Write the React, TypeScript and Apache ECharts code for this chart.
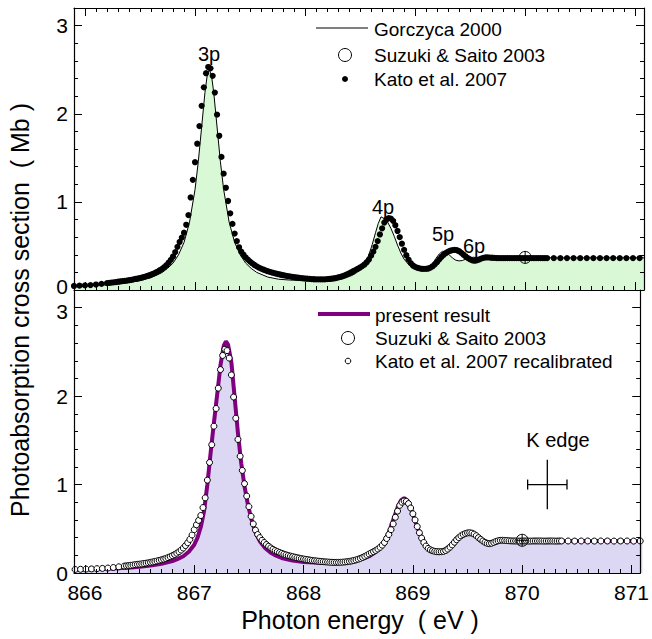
import React, { useEffect, useRef } from 'react';
import * as echarts from 'echarts';

// ---------- Data ----------
// Gorczyca 2000 (theory, top panel)
const gorczycaE = [
  865.90, 866.00, 866.10, 866.20, 866.30, 866.40, 866.50, 866.60, 866.70, 866.75,
  866.80, 866.85, 866.90, 866.95, 867.00, 867.03, 867.06, 867.09, 867.11, 867.13,
  867.15, 867.17, 867.20, 867.23, 867.26, 867.31, 867.36, 867.41, 867.46, 867.51,
  867.56, 867.66, 867.76, 867.86, 867.96, 868.06, 868.16, 868.26, 868.36, 868.42,
  868.46, 868.50, 868.54, 868.58, 868.61, 868.64, 868.665, 868.69, 868.72, 868.75,
  868.78, 868.81, 868.84, 868.87, 868.90, 868.94, 868.98, 869.02, 869.06, 869.10,
  869.13, 869.16, 869.19, 869.22, 869.25, 869.28, 869.31, 869.34, 869.37, 869.40,
  869.43, 869.46, 869.50, 869.53, 869.56, 869.60, 869.65, 869.70, 869.80, 870.00,
  870.50, 871.10,
];
const gorczycaY = [
  0.043, 0.047, 0.052, 0.059, 0.070, 0.085, 0.107, 0.140, 0.198, 0.245,
  0.305, 0.400, 0.540, 0.770, 1.140, 1.460, 1.850, 2.240, 2.430, 2.500,
  2.430, 2.240, 1.850, 1.460, 1.140, 0.770, 0.540, 0.400, 0.305, 0.245,
  0.200, 0.147, 0.122, 0.113, 0.108, 0.106, 0.108, 0.118, 0.138, 0.162,
  0.188, 0.232, 0.295, 0.400, 0.515, 0.650, 0.755, 0.830, 0.810, 0.770,
  0.700, 0.610, 0.510, 0.420, 0.350, 0.290, 0.255, 0.235, 0.225, 0.230,
  0.255, 0.300, 0.360, 0.410, 0.440, 0.430, 0.400, 0.362, 0.338, 0.330,
  0.335, 0.350, 0.365, 0.372, 0.368, 0.362, 0.364, 0.367, 0.366, 0.365,
  0.365, 0.365,
];

// Kato et al. 2007 (measured energies)
const katoE = [
  865.75, 865.80, 865.85, 865.90, 865.95, 866.00, 866.05, 866.10, 866.15,
  866.20, 866.22, 866.24, 866.26, 866.28, 866.30, 866.32, 866.34, 866.36, 866.38,
  866.40, 866.42, 866.44, 866.46, 866.48, 866.50, 866.52, 866.54, 866.56, 866.58,
  866.60, 866.62, 866.64, 866.66, 866.68, 866.70, 866.72, 866.74, 866.76, 866.78,
  866.80, 866.82, 866.84, 866.86, 866.88, 866.90, 866.92, 866.94, 866.96, 866.98,
  867.00, 867.02, 867.04, 867.06, 867.08, 867.10, 867.12, 867.14, 867.16, 867.18,
  867.20, 867.22, 867.24, 867.26, 867.28, 867.30, 867.32, 867.34, 867.36, 867.38,
  867.40, 867.42, 867.44, 867.46, 867.48, 867.50, 867.52, 867.54, 867.56, 867.58,
  867.60, 867.62, 867.64, 867.66, 867.68, 867.70, 867.72, 867.74, 867.76, 867.78,
  867.80, 867.82, 867.84, 867.86, 867.88, 867.90, 867.92, 867.94, 867.96, 867.98,
  868.00, 868.02, 868.04, 868.06, 868.08, 868.10, 868.12, 868.14, 868.16, 868.18,
  868.20, 868.22, 868.24, 868.26, 868.28, 868.30, 868.32, 868.34, 868.36, 868.38,
  868.40, 868.42, 868.44, 868.46, 868.48, 868.50, 868.52, 868.54, 868.56, 868.58,
  868.60, 868.62, 868.64, 868.66, 868.68, 868.70, 868.72, 868.74, 868.76, 868.78,
  868.80, 868.82, 868.84, 868.86, 868.88, 868.90, 868.92, 868.94, 868.96, 868.98,
  869.00, 869.02, 869.04, 869.06, 869.08, 869.10, 869.12, 869.14, 869.16, 869.18,
  869.20, 869.22, 869.24, 869.26, 869.28, 869.30, 869.32, 869.34, 869.36, 869.38,
  869.40, 869.42, 869.44, 869.46, 869.48, 869.50, 869.52, 869.54, 869.56, 869.58,
  869.60, 869.62, 869.64, 869.66, 869.68, 869.70, 869.72, 869.74, 869.76, 869.78,
  869.80, 869.82, 869.84, 869.86, 869.88, 869.90, 869.92, 869.94, 869.96, 869.98,
  870.00, 870.02, 870.04, 870.06, 870.08, 870.10, 870.12, 870.14, 870.16, 870.18,
  870.20,
  870.26, 870.32, 870.38, 870.44, 870.50, 870.56, 870.62, 870.68, 870.74, 870.80,
  870.86, 870.92, 870.98, 871.04, 871.10,
];
// Kato et al. 2007 recalibrated energies (bottom panel)
const katoRecalE = [
  865.91, 865.96, 866.01, 866.06, 866.11, 866.16, 866.21, 866.26, 866.31,
  866.36, 866.38, 866.40, 866.42, 866.44, 866.46, 866.48, 866.50, 866.52, 866.54,
  866.56, 866.58, 866.60, 866.62, 866.64, 866.66, 866.68, 866.70, 866.72, 866.74,
  866.76, 866.78, 866.80, 866.82, 866.84, 866.86, 866.88, 866.90, 866.92, 866.94,
  866.96, 866.98, 867.00, 867.02, 867.04, 867.06, 867.08, 867.10, 867.12, 867.14,
  867.16, 867.18, 867.20, 867.22, 867.24, 867.26, 867.28, 867.30, 867.32, 867.34,
  867.36, 867.38, 867.40, 867.42, 867.44, 867.46, 867.48, 867.50, 867.52, 867.54,
  867.56, 867.58, 867.60, 867.62, 867.64, 867.66, 867.68, 867.70, 867.72, 867.74,
  867.76, 867.78, 867.80, 867.82, 867.84, 867.86, 867.88, 867.90, 867.92, 867.94,
  867.96, 867.98, 868.00, 868.02, 868.04, 868.06, 868.08, 868.10, 868.12, 868.14,
  868.16, 868.18, 868.20, 868.22, 868.24, 868.26, 868.28, 868.30, 868.32, 868.34,
  868.36, 868.38, 868.40, 868.42, 868.44, 868.46, 868.48, 868.50, 868.52, 868.54,
  868.56, 868.58, 868.60, 868.62, 868.64, 868.66, 868.68, 868.70, 868.72, 868.74,
  868.76, 868.78, 868.80, 868.82, 868.84, 868.86, 868.88, 868.90, 868.92, 868.94,
  868.96, 868.98, 869.00, 869.02, 869.04, 869.06, 869.08, 869.10, 869.12, 869.14,
  869.16, 869.18, 869.20, 869.22, 869.24, 869.26, 869.28, 869.30, 869.32, 869.34,
  869.36, 869.38, 869.40, 869.42, 869.44, 869.46, 869.48, 869.50, 869.52, 869.54,
  869.56, 869.58, 869.60, 869.62, 869.64, 869.66, 869.68, 869.70, 869.72, 869.74,
  869.76, 869.78, 869.80, 869.82, 869.84, 869.86, 869.88, 869.90, 869.92, 869.94,
  869.96, 869.98, 870.00, 870.02, 870.04, 870.06, 870.08, 870.10, 870.12, 870.14,
  870.16, 870.18, 870.20, 870.22, 870.24, 870.26, 870.28, 870.30, 870.32, 870.34,
  870.36,
  870.42, 870.48, 870.54, 870.60, 870.66, 870.72, 870.78, 870.84, 870.90, 870.96,
  871.02, 871.08, 871.14, 871.20, 871.26,
];
// Kato et al. 2007 cross section (Mb)
const katoY = [
  0.040, 0.042, 0.044, 0.046, 0.049, 0.052, 0.056, 0.062, 0.070,
  0.078, 0.081, 0.084, 0.087, 0.090, 0.094, 0.097, 0.100, 0.103, 0.107,
  0.111, 0.115, 0.120, 0.125, 0.130, 0.136, 0.142, 0.149, 0.157, 0.165,
  0.174, 0.184, 0.196, 0.209, 0.224, 0.240, 0.259, 0.282, 0.310, 0.342,
  0.380, 0.430, 0.490, 0.545, 0.595, 0.650, 0.740, 0.850, 1.050, 1.250,
  1.450, 1.660, 1.860, 2.090, 2.300, 2.460, 2.530, 2.515, 2.430, 2.240,
  1.990, 1.750, 1.510, 1.320, 1.160, 1.010, 0.870, 0.750, 0.640, 0.555,
  0.485, 0.435, 0.400, 0.370, 0.345, 0.322, 0.302, 0.284, 0.268, 0.254,
  0.243, 0.232, 0.222, 0.213, 0.205, 0.198, 0.191, 0.185, 0.179, 0.173,
  0.168, 0.163, 0.158, 0.154, 0.150, 0.146, 0.142, 0.139, 0.136, 0.133,
  0.130, 0.128, 0.126, 0.124, 0.122, 0.121, 0.120, 0.120, 0.120, 0.121,
  0.123, 0.125, 0.128, 0.131, 0.136, 0.142, 0.148, 0.156, 0.165, 0.176,
  0.188, 0.201, 0.215, 0.228, 0.241, 0.255, 0.271, 0.290, 0.315, 0.345,
  0.390, 0.435, 0.490, 0.555, 0.630, 0.700, 0.765, 0.800, 0.815, 0.810,
  0.785, 0.735, 0.670, 0.600, 0.525, 0.455, 0.395, 0.345, 0.305, 0.278,
  0.262, 0.252, 0.245, 0.241, 0.240, 0.241, 0.244, 0.254, 0.270, 0.292,
  0.318, 0.348, 0.376, 0.400, 0.420, 0.435, 0.446, 0.453, 0.455, 0.451,
  0.440, 0.422, 0.400, 0.380, 0.362, 0.347, 0.336, 0.332, 0.336, 0.346,
  0.356, 0.364, 0.369, 0.370, 0.368, 0.366, 0.364, 0.363, 0.362, 0.362,
  0.361, 0.361, 0.362, 0.362, 0.362, 0.361, 0.361, 0.362, 0.362, 0.362,
  0.362, 0.362, 0.361, 0.361, 0.362, 0.362, 0.362, 0.361, 0.361, 0.362,
  0.362,
  0.362, 0.361, 0.362, 0.362, 0.361, 0.362, 0.362, 0.361, 0.362, 0.362,
  0.361, 0.362, 0.362, 0.362, 0.362,
];

// Present result (bottom panel)
const presentE = [
  865.90, 866.00, 866.10, 866.20, 866.30, 866.40, 866.50, 866.60, 866.70, 866.80,
  866.85, 866.90, 866.95, 867.00, 867.03, 867.06, 867.09, 867.12, 867.15, 867.18,
  867.21, 867.24, 867.27, 867.29, 867.31, 867.34, 867.37, 867.40, 867.43, 867.46,
  867.49, 867.52, 867.56, 867.60, 867.65, 867.70, 867.75, 867.80, 867.90, 868.00,
  868.10, 868.20, 868.30, 868.40, 868.50, 868.55, 868.60, 868.65, 868.70, 868.74,
  868.78, 868.82, 868.86, 868.89, 868.92, 868.95, 868.98, 869.01, 869.04, 869.07,
  869.10, 869.14, 869.18, 869.22, 869.26, 869.30, 869.34, 869.38, 869.42, 869.46,
  869.50, 869.53, 869.56, 869.60, 869.64, 869.68, 869.72, 869.76, 869.80, 869.85,
  869.90, 870.00, 870.50, 871.10,
];
const presentY = [
  0.035, 0.038, 0.042, 0.047, 0.053, 0.060, 0.070, 0.085, 0.105, 0.135,
  0.160, 0.190, 0.240, 0.320, 0.400, 0.520, 0.700, 1.000, 1.360, 1.700,
  2.020, 2.350, 2.570, 2.620, 2.580, 2.380, 1.980, 1.580, 1.240, 0.980,
  0.780, 0.620, 0.460, 0.360, 0.280, 0.230, 0.195, 0.170, 0.140, 0.125,
  0.118, 0.116, 0.120, 0.130, 0.150, 0.165, 0.190, 0.230, 0.290, 0.360,
  0.460, 0.600, 0.740, 0.820, 0.845, 0.820, 0.740, 0.630, 0.520, 0.430,
  0.350, 0.290, 0.255, 0.240, 0.245, 0.270, 0.310, 0.360, 0.400, 0.435,
  0.455, 0.458, 0.440, 0.395, 0.350, 0.330, 0.340, 0.360, 0.370, 0.367,
  0.364, 0.362, 0.362, 0.362,
];

// Suzuki & Saito 2003
const suzuki = [[870.0, 0.37]];
// K edge: energy, cross section, energy error, cross-section error
const kEdge = [[870.23, 1.0, 0.18, 0.28]];

const xTickLabels = ['866', '867', '868', '869', '870', '871'];
// y tick labels drawn by each panel's axis (the shared 0 / 3 pair at the
// panel junction is drawn separately so the two do not collide)
const yTickLabelsTop = ['1', '2', '3'];
const yTickLabelsBottom = ['0', '1', '2'];
const junctionLabels = ['0', '3'];

const zip = (xs: number[], ys: number[]) => xs.map((x, i) => [x, ys[i]]);

const FONT = '"Liberation Sans", Arial, Helvetica, sans-serif';
const GREEN = '#d9f8d6';
const LAVENDER = '#dcd7f2';
const PURPLE = '#800080';

function isInt(v: number) {
  return Math.abs(v - Math.round(v)) < 1e-6;
}

function App() {
  const ref = useRef<HTMLDivElement>(null);

  useEffect(() => {
    const chart = echarts.init(ref.current!, null, { renderer: 'svg' });

    const xBase = (gridIndex: number, position: 'top' | 'bottom', labels: boolean) => ({
      type: 'value',
      gridIndex,
      position,
      min: 865.9,
      max: 871.08,
      z: 10,
      axisLine: { show: true, onZero: false, lineStyle: { color: '#000', width: 1.2 } },
      axisTick: { show: true, inside: true, length: 8, lineStyle: { color: '#000', width: 1 } },
      minorTick: { show: true, splitNumber: 10, length: 4, lineStyle: { color: '#000', width: 1 } },
      splitLine: { show: false },
      minorSplitLine: { show: false },
      axisLabel: {
        show: labels,
        color: '#000',
        fontSize: 21,
        fontFamily: FONT,
        margin: 9,
        formatter: (v: number) => (isInt(v) && xTickLabels.includes(String(Math.round(v))) ? String(Math.round(v)) : ''),
      },
    });

    const yBase = (gridIndex: number, position: 'left' | 'right', labels: string[] | null) => ({
      type: 'value',
      gridIndex,
      position,
      min: 0,
      max: 3.2,
      interval: 1,
      z: 10,
      axisLine: { show: true, onZero: false, lineStyle: { color: '#000', width: 1.2 } },
      axisTick: { show: true, inside: true, length: 8, lineStyle: { color: '#000', width: 1 } },
      minorTick: { show: true, splitNumber: 5, length: 4, lineStyle: { color: '#000', width: 1 } },
      splitLine: { show: false },
      minorSplitLine: { show: false },
      axisLabel: {
        show: !!labels,
        color: '#000',
        fontSize: 21,
        fontFamily: FONT,
        margin: 6,
        formatter: (v: number) =>
          labels && isInt(v) && labels.includes(String(Math.round(v))) ? String(Math.round(v)) : '',
      },
    });

    const suzukiRender = (params: any, api: any) => {
      const p = api.coord([api.value(0), api.value(1)]);
      const r = 6;
      return {
        type: 'group',
        children: [
          { type: 'circle', shape: { cx: p[0], cy: p[1], r }, style: { fill: 'transparent', stroke: '#000', lineWidth: 1 } },
          { type: 'line', shape: { x1: p[0], y1: p[1] - r, x2: p[0], y2: p[1] + r }, style: { stroke: '#000', lineWidth: 1 } },
          { type: 'line', shape: { x1: p[0] - r, y1: p[1], x2: p[0] + r, y2: p[1] }, style: { stroke: '#000', lineWidth: 1 } },
        ],
      };
    };

    const kEdgeRender = (params: any, api: any) => {
      const x = api.value(0), y = api.value(1), dx = api.value(2), dy = api.value(3);
      const c = api.coord([x, y]);
      const l = api.coord([x - dx, y]);
      const r = api.coord([x + dx, y]);
      const t = api.coord([x, y + dy]);
      const b = api.coord([x, y - dy]);
      const st = { stroke: '#000', lineWidth: 1.3 };
      return {
        type: 'group',
        children: [
          { type: 'line', shape: { x1: l[0], y1: c[1], x2: r[0], y2: c[1] }, style: st },
          { type: 'line', shape: { x1: c[0], y1: t[1], x2: c[0], y2: b[1] }, style: st },
          { type: 'line', shape: { x1: l[0], y1: c[1] - 5, x2: l[0], y2: c[1] + 5 }, style: st },
          { type: 'line', shape: { x1: r[0], y1: c[1] - 5, x2: r[0], y2: c[1] + 5 }, style: st },
        ],
      };
    };

    const txt = (text: string, x: number, y: number, size: number, align = 'left', extra: any = {}) => ({
      type: 'text',
      x,
      y,
      z: 100,
      ...extra,
      style: {
        text,
        fill: '#000',
        font: `${size}px ${FONT}`,
        align,
        verticalAlign: 'middle',
        textAlign: align,
        textVerticalAlign: 'middle',
      },
    });

    const option: any = {
      animation: false,
      backgroundColor: '#fff',
      grid: [
        { left: 74, top: 8, width: 570, height: 282, containLabel: false },
        { left: 74, top: 290, width: 570, height: 283, containLabel: false },
      ],
      xAxis: [xBase(0, 'bottom', false), xBase(0, 'top', false), xBase(1, 'bottom', true)],
      yAxis: [
        yBase(0, 'left', yTickLabelsTop),
        yBase(0, 'right', null),
        yBase(1, 'left', yTickLabelsBottom),
        yBase(1, 'right', null),
      ],
      series: [
        {
          name: 'Gorczyca 2000',
          type: 'line',
          xAxisIndex: 0,
          yAxisIndex: 0,
          data: zip(gorczycaE, gorczycaY),
          symbol: 'none',
          lineStyle: { color: '#000', width: 1 },
          areaStyle: { color: GREEN, opacity: 1 },
          clip: true,
          z: 2,
        },
        {
          name: 'Kato et al. 2007',
          type: 'scatter',
          xAxisIndex: 0,
          yAxisIndex: 0,
          data: zip(katoE, katoY),
          symbol: 'circle',
          symbolSize: 6.2,
          itemStyle: { color: '#000', opacity: 1 },
          clip: true,
          z: 3,
        },
        {
          name: 'Suzuki & Saito 2003',
          type: 'custom',
          xAxisIndex: 0,
          yAxisIndex: 0,
          data: suzuki,
          renderItem: suzukiRender,
          z: 4,
        },
        {
          name: 'present result',
          type: 'line',
          xAxisIndex: 2,
          yAxisIndex: 2,
          data: zip(presentE, presentY),
          symbol: 'none',
          lineStyle: { color: PURPLE, width: 4 },
          areaStyle: { color: LAVENDER, opacity: 1 },
          clip: true,
          z: 2,
        },
        {
          name: 'Kato et al. 2007 recalibrated',
          type: 'scatter',
          xAxisIndex: 2,
          yAxisIndex: 2,
          data: zip(katoRecalE, katoY),
          symbol: 'circle',
          symbolSize: 6,
          itemStyle: { color: '#fff', borderColor: '#000', borderWidth: 1, opacity: 1 },
          clip: true,
          z: 3,
        },
        {
          name: 'Suzuki & Saito 2003 ',
          type: 'custom',
          xAxisIndex: 2,
          yAxisIndex: 2,
          data: suzuki,
          renderItem: suzukiRender,
          z: 4,
        },
        {
          name: 'K edge',
          type: 'custom',
          xAxisIndex: 2,
          yAxisIndex: 2,
          data: kEdge,
          renderItem: kEdgeRender,
          z: 4,
        },
      ],
      graphic: [
        // top legend
        { type: 'line', z: 100, shape: { x1: 316, y1: 28, x2: 368, y2: 28 }, style: { stroke: '#000', lineWidth: 1 } },
        txt('Gorczyca 2000', 374, 29, 19),
        { type: 'circle', z: 100, shape: { cx: 345, cy: 55, r: 6.5 }, style: { fill: '#fff', stroke: '#000', lineWidth: 1 } },
        txt('Suzuki & Saito 2003', 374, 55, 19),
        { type: 'circle', z: 100, shape: { cx: 345, cy: 79, r: 3 }, style: { fill: '#000', stroke: '#000', lineWidth: 0 } },
        txt('Kato et al. 2007', 374, 79, 19),
        // bottom legend
        { type: 'line', z: 100, shape: { x1: 318, y1: 314, x2: 370, y2: 314 }, style: { stroke: PURPLE, lineWidth: 4 } },
        txt('present result', 375, 315, 19),
        { type: 'circle', z: 100, shape: { cx: 348, cy: 338, r: 6.5 }, style: { fill: '#fff', stroke: '#000', lineWidth: 1 } },
        txt('Suzuki & Saito 2003', 375, 338, 19),
        { type: 'circle', z: 100, shape: { cx: 348, cy: 361, r: 2.8 }, style: { fill: '#fff', stroke: '#000', lineWidth: 1 } },
        txt('Kato et al. 2007 recalibrated', 375, 361, 19),
        // junction tick labels (top panel 0, bottom panel 3)
        txt(junctionLabels[0], 68, 286.5, 21, 'right'),
        txt(junctionLabels[1], 68, 311.5, 21, 'right'),
        // peak labels
        txt('3p', 209, 54, 20, 'center'),
        txt('4p', 383, 207, 20, 'center'),
        txt('5p', 443, 234, 20, 'center'),
        txt('6p', 474, 246, 20, 'center'),
        txt('K edge', 558, 440, 20, 'center'),
        // axis titles
        txt('Photoabsorption cross section  ( Mb )', 20, 310, 25, 'center', { rotation: Math.PI / 2 }),
        txt('Photon energy  ( eV )', 360, 620, 25, 'center'),
      ],
    };

    chart.setOption(option);
    return () => chart.dispose();
  }, []);

  return (
    <div
      ref={ref}
      style={{ position: 'fixed', left: 0, top: 0, width: 652, height: 639, background: '#fff' }}
    />
  );
}

export default App;
